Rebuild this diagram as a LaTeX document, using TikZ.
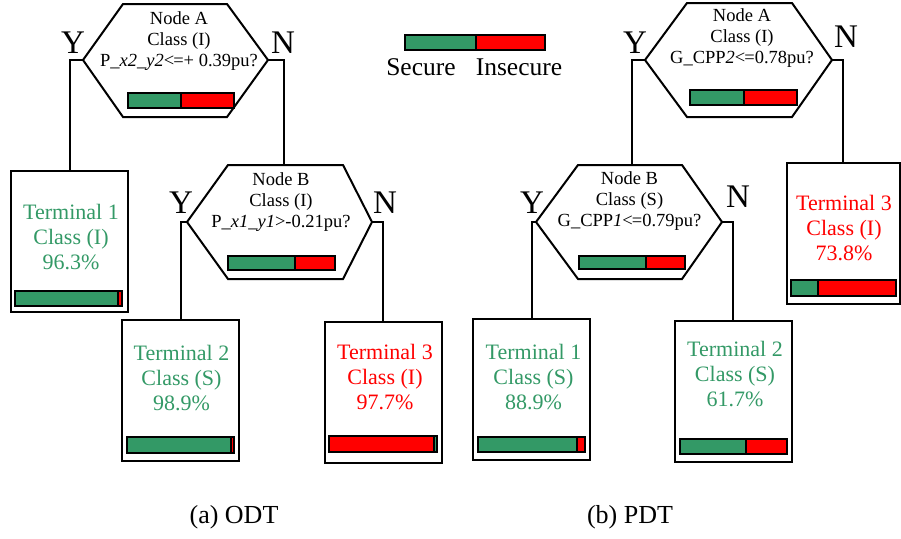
\documentclass[tikz,border=0pt]{standalone}
\usepackage{fontspec}
\setmainfont{Liberation Serif}
\definecolor{secgreen}{RGB}{51,153,102}
\definecolor{insred}{RGB}{255,0,0}
\tikzset{
  hexa/.style={draw, line width=2pt, line join=miter},
  conn/.style={line width=2pt},
  tbox/.style={draw, line width=2pt, minimum width=117, minimum height=141, inner sep=0},
  htext/.style={font=\fontsize{18.5}{21}\selectfont, align=center, inner sep=0},
  ttext/.style={font=\fontsize{22}{25}\selectfont, align=center, inner sep=0},
  yn/.style={font=\fontsize{33}{33}\selectfont, inner sep=0},
  lgtext/.style={font=\fontsize{25.5}{25}\selectfont, inner sep=0, anchor=base},
  captext/.style={font=\fontsize{26}{26}\selectfont, inner sep=0, anchor=base},
  barg/.style={fill=secgreen, draw=black, line width=1.6pt},
  barr/.style={fill=insred, draw=black, line width=1.6pt},
}
\begin{document}
\begin{tikzpicture}[x=1pt,y=-1pt]
\useasboundingbox (0,0) rectangle (901,538);

% ---------- (a) ODT ----------
% Node A (left)
\coordinate (LAl) at (83,60);
\coordinate (LAr) at (268,60);
\draw[hexa] (123,4) -- (227,4) -- (LAr) -- (227,117) -- (123,117) -- (LAl) -- cycle;
\node[htext] (LAt) at (179,41) {Node A\\Class (I)\\P\_\textit{x2\_y2}{<}\kern-1pt{=}+ 0.39pu?};
\draw[barg] (128,93) rectangle (181,108);
\draw[barr] (181,93) rectangle (234,108);

% Node B (left)
\coordinate (LBl) at (187,222);
\coordinate (LBr) at (372,222);
\coordinate (LBt) at (284,165);
\draw[hexa] (228,165) -- (343,165) -- (LBr) -- (343,279) -- (228,279) -- (LBl) -- cycle;
\node[htext] (LBtx) at (281,202) {Node B\\Class (I)\\P\_\textit{x1\_y1}{>}-0.21pu?};
\draw[barg] (228,256) rectangle (295,270);
\draw[barr] (295,256) rectangle (335,270);

% Terminals (left)
\node[tbox] (LT1) at (69.5,241) {};
\node[ttext, text=secgreen] (LT1t) at (71,237) {Terminal 1\\Class (I)\\96.3\%};
\draw[barg] (15,291) rectangle (118,306);
\draw[barr] (118,291) rectangle (122,306);

\node[tbox] (LT2) at (180.5,390.5) {};
\node[ttext, text=secgreen] (LT2t) at (181.5,378) {Terminal 2\\Class (S)\\98.9\%};
\draw[barg] (127,437) rectangle (231,453);
\draw[barr] (231,437) rectangle (234,453);

\node[tbox] (LT3) at (383,392.5) {};
\node[ttext, text=insred] (LT3t) at (385,377) {Terminal 3\\Class (I)\\97.7\%};
\draw[barr] (329,436) rectangle (434,452);
\draw[barg] (434,436) rectangle (437,452);

% Connectors (left)
\draw[conn] (LAl) -| (LT1.north);
\draw[conn] (LAr) -| (LBt);
\draw[conn] (LBl) -| (LT2.north);
\draw[conn] (LBr) -| (LT3.north);

% Y / N (left)
\node[yn] (LAy) at (73,43) {Y};
\node[yn] (LAn) at (283,43) {N};
\node[yn] (LBy) at (181,203) {Y};
\node[yn] (LBn) at (385,203) {N};

% ---------- Legend ----------
\draw[barg] (405,35) rectangle (476,50);
\draw[barr] (476,35) rectangle (545,50);
\node[lgtext] (lgS) at (421,75) {Secure};
\node[lgtext] (lgI) at (519,75) {Insecure};

% ---------- (b) PDT ----------
% Node A (right)
\coordinate (RAl) at (645,60);
\coordinate (RAr) at (832,60);
\draw[hexa] (687,3) -- (792,3) -- (RAr) -- (792,117) -- (687,117) -- (RAl) -- cycle;
\node[htext] (RAt) at (742,38.5) {Node A\\Class (I)\\G\_CPP\textit{2}{<}\kern-1pt{=}0.78pu?};
\draw[barg] (690,90) rectangle (744,105);
\draw[barr] (744,90) rectangle (797,105);

% Node B (right)
\coordinate (RBl) at (536,222);
\coordinate (RBr) at (722,222);
\coordinate (RBt) at (632,165);
\draw[hexa] (578,165) -- (682,165) -- (RBr) -- (682,279) -- (578,279) -- (RBl) -- cycle;
\node[htext] (RBtx) at (629.5,201) {Node B\\Class (S)\\G\_CPP\textit{1}{<}\kern-1pt{=}0.79pu?};
\draw[barg] (579,256) rectangle (646,269);
\draw[barr] (646,256) rectangle (685,269);

% Terminals (right)
\node[tbox] (RT1) at (531.5,389.5) {};
\node[ttext, text=secgreen] (RT1t) at (533.5,377) {Terminal 1\\Class (S)\\88.9\%};
\draw[barg] (478,437) rectangle (577,452);
\draw[barr] (577,437) rectangle (585,452);

\node[tbox] (RT2) at (733,391.5) {};
\node[ttext, text=secgreen] (RT2t) at (735,374) {Terminal 2\\Class (S)\\61.7\%};
\draw[barg] (680,439) rectangle (746,454);
\draw[barr] (746,439) rectangle (787,454);

\node[tbox, minimum width=113] (RT3) at (843,233.5) {};
\node[ttext, text=insred] (RT3t) at (844,228) {Terminal 3\\Class (I)\\73.8\%};
\draw[barg] (791,280) rectangle (818,296);
\draw[barr] (818,280) rectangle (896,296);

% Connectors (right)
\draw[conn] (RAl) -| (RBt);
\draw[conn] (RAr) -| (RT3.north);
\draw[conn] (RBl) -| (RT1.north);
\draw[conn] (RBr) -| (RT2.north);

% Y / N (right)
\node[yn] (RAy) at (635,43) {Y};
\node[yn] (RAn) at (846,37) {N};
\node[yn] (RBy) at (532,203) {Y};
\node[yn] (RBn) at (738,197) {N};

% Captions
\node[captext] (capa) at (234,523) {(a) ODT};
\node[captext] (capb) at (630,523) {(b) PDT};
\end{tikzpicture}
\end{document}
